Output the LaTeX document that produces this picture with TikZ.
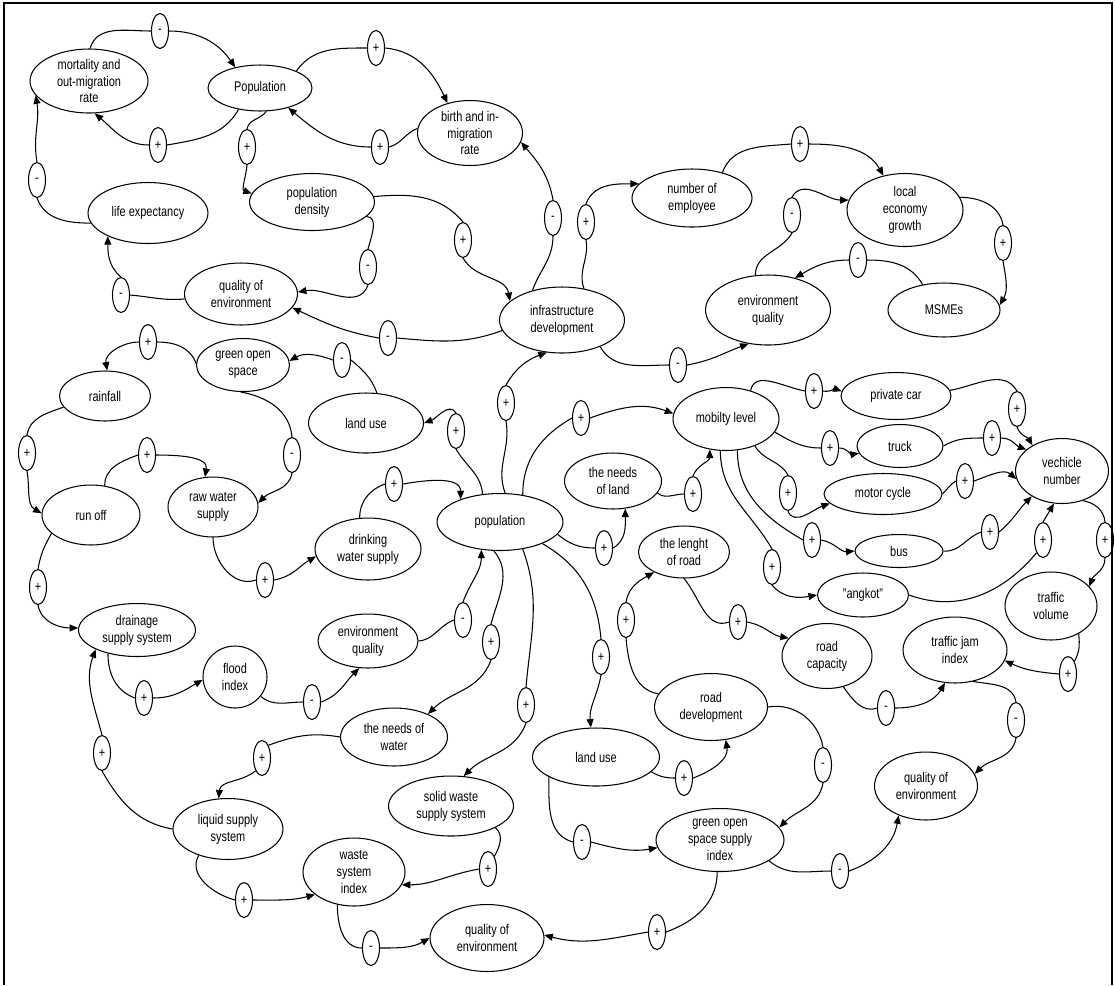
\documentclass[tikz,border=0pt]{standalone}
\usepackage{fontspec}
\setmainfont{Liberation Sans}[FakeStretch=0.78]
\usetikzlibrary{shapes.geometric, arrows.meta}
\tikzset{
  var/.style={ellipse, draw, line width=0.6pt, align=center, inner sep=0pt,
              font=\fontsize{8}{9.6}\selectfont},
  sz/.style 2 args={minimum width=#1cm, minimum height=#2cm},
  sgn/.style={ellipse, draw, line width=0.6pt, inner sep=0pt,
              minimum width=0.34cm, minimum height=0.7cm,
              font=\fontsize{8}{8}\selectfont},
  ln/.style={line width=0.6pt},
  arr/.style={ln, -{Triangle[length=1.7mm, width=1.4mm]}},
  frame/.style={line width=1.3pt},
}

\begin{document}
\begin{tikzpicture}[x=0.02cm, y=0.02cm]
  \useasboundingbox (0,0) rectangle (1115,-985);
  \draw[frame] (4,-985) -- (4,-3) -- (1112,-3) -- (1112,-985);

  % population loop
  \node[var, sz={2.36}{1.28}] (mort) at (89,-81) {mortality and\\out-migration\\rate};
  \node[var, sz={2.08}{0.92}] (popA) at (260,-88) {Population};
  \node[var, sz={2.1}{1.3}] (birth) at (470,-133) {birth and in-\\migration\\rate};
  \node[var, sz={2.5}{1.14}] (dens) at (312,-202) {population\\density};
  \node[var, sz={2.4}{1.22}] (life) at (148,-213) {life expectancy};
  \node[var, sz={2.26}{1.24}] (qoeA) at (241,-294) {quality of\\environment};
  \node[var, sz={2.5}{1.32}] (infra) at (562,-320) {infrastructure\\development};
  % economy
  \node[var, sz={2.4}{1.16}] (empl) at (692,-198) {number of\\employee};
  \node[var, sz={2.32}{1.46}] (econ) at (905,-210) {local\\economy\\growth};
  \node[var, sz={2.5}{1.4}] (envA) at (768,-310) {environment\\quality};
  \node[var, sz={2.24}{1.08}] (msme) at (944,-310) {MSMEs};
  % water
  \node[var, sz={1.86}{1.06}] (gos) at (243,-365) {green open\\space};
  \node[var, sz={2.3}{1.2}] (luA) at (366,-423) {land use};
  \node[var, sz={1.82}{1.0}] (rain) at (105,-396) {rainfall};
  \node[var, sz={1.96}{1.2}] (runoff) at (91,-515) {run off};
  \node[var, sz={1.8}{1.2}] (raw) at (213,-507) {raw water\\supply};
  \node[var, sz={2.12}{1.24}] (drink) at (368,-549) {drinking\\water supply};
  \node[var, sz={2.34}{1.06}] (drain) at (137,-630) {drainage\\supply system};
  \node[var, sz={2.0}{1.08}] (envB) at (368,-641) {environment\\quality};
  \node[var, sz={1.28}{1.24}] (flood) at (235,-677) {flood\\index};
  % centre
  \node[var, sz={2.52}{1.14}] (popB) at (500,-522) {population};
  \node[var, sz={1.94}{1.12}] (nland) at (613,-481) {the needs\\of land};
  % transport
  \node[var, sz={2.12}{1.26}] (mob) at (726,-419) {mobilty level};
  \node[var, sz={1.82}{1.04}] (lroad) at (684,-552) {the lenght\\of road};
  \node[var, sz={2.2}{0.94}] (car) at (896,-396) {private car};
  \node[var, sz={1.72}{0.86}] (truck) at (900,-446) {truck};
  \node[var, sz={2.36}{0.82}] (moto) at (883,-494) {motor cycle};
  \node[var, sz={1.76}{0.66}] (bus) at (899,-551) {bus};
  \node[var, sz={1.82}{0.88}] (angkot) at (863,-595) {"angkot"};
  \node[var, sz={1.86}{1.3}] (veh) at (1062,-471) {vechicle\\number};
  \node[var, sz={1.84}{1.36}] (tvol) at (1051,-606) {traffic\\volume};
  \node[var, sz={2.08}{1.32}] (tjam) at (955,-650) {traffic jam\\index};
  \node[var, sz={1.8}{1.3}] (rcap) at (827,-656) {road\\capacity};
  \node[var, sz={2.26}{1.34}] (rdev) at (711,-707) {road\\development};
  \node[var, sz={2.54}{1.16}] (luB) at (596,-757) {land use};
  \node[var, sz={2.56}{1.26}] (gossi) at (720,-840) {green open\\space supply\\index};
  \node[var, sz={2.06}{1.36}] (qoeC) at (926,-786) {quality of\\environment};
  % waste
  \node[var, sz={2.14}{1.16}] (nwater) at (394,-737) {the needs of\\water};
  \node[var, sz={2.5}{1.2}] (solid) at (451,-806) {solid waste\\supply system};
  \node[var, sz={2.2}{1.22}] (liquid) at (228,-829) {liquid supply\\system};
  \node[var, sz={2.04}{1.36}] (windex) at (354,-872) {waste\\system\\index};
  \node[var, sz={2.28}{1.34}] (qoeB) at (487,-938) {quality of\\environment};

  % polarity signs
  \foreach \n/\x/\y/\s in {s1/160/31/-, s2/158/145/+, s3/376/48/+, s4/380/147/+,
      s5/247/147/+, s6/37/180/-, s7/121/295/-, s8/368/267/-, s9/463/240/+,
      s10/388/338/-, s11/553/218/-, s12/586/222/+, s13/800/144/+, s14/792/215/-,
      s15/1003/243/+, s16/858/260/-, s17/678/365/-, s18/342/360/-, s19/148/342/+,
      s20/27/453/+, s21/292/455/-, s22/147/455/+, s23/38/587/+, s24/265/580/+,
      s25/394/484/+, s26/456/431/+, s27/506/403/+, s28/581/418/+, s29/604/548/+,
      s30/693/494/+, s31/814/391/+, s32/830/448/+, s33/788/493/+, s34/812/540/+,
      s35/772/567/+, s36/1017/409/+, s37/992/438/+, s38/965/481/+, s39/990/532/+,
      s40/1043/540/+, s41/1105/540/+, s42/1068/674/+, s43/738/622/+, s44/886/708/-,
      s45/1016/720/-, s46/626/620/+, s47/823/765/-, s48/601/657/+, s49/684/778/+,
      s50/582/842/-, s51/840/871/-, s52/657/932/+, s53/526/705/+, s54/491/642/+,
      s55/463/620/-, s56/312/702/-, s57/144/698/+, s58/102/753/+, s59/262/758/+,
      s60/244/900/+, s61/488/869/+, s62/371/948/-}
    \node[sgn] (\n) at (\x,-\y) {\s};

  % links: source -- sign -> target
  \draw[ln] (mort.88) to[out=75,in=180] (s1.west);   \draw[arr] (s1.east) to[out=0,in=125] (popA.140);
  \draw[ln] (popA.225) to[out=240,in=10] (s2.east);  \draw[arr] (s2.west) to[out=180,in=-40] (mort.280);
  \draw[ln] (popA.25) to[out=55,in=180] (s3.west);   \draw[arr] (s3.east) to[out=-5,in=115] (birth.127);
  \draw[ln] (birth.175) to[out=200,in=15] (s4.east); \draw[arr] (s4.west) to[out=180,in=-40] (popA.-35);
  \draw[ln] (popA.-75) to[out=235,in=80] (s5.north); \draw[arr] (s5.south) to[out=-95,in=160] (dens.172);
  \draw[ln] (life.190) to[out=180,in=-70] (s6.south); \draw[arr] (s6.north) to[out=100,in=-80] (mort.195);
  \draw[ln] (qoeA.185) to[out=185,in=-5] (s7.east); \draw[arr] (s7.north) to[out=140,in=-90] (life.210);
  \draw[ln] (dens.-15) to[out=0,in=75] (s8.north);  \draw[arr] (s8.south) to[out=250,in=10] (qoeA.2);
  \draw[ln] (dens.5) to[out=5,in=130] (s9.north);   \draw[arr] (s9.south) to[out=-60,in=100] (infra.160);
  \draw[ln] (infra.190) to[out=200,in=-5] (s10.east); \draw[arr] (s10.west) to[out=170,in=-25] (qoeA.-15);
  \draw[ln] (infra.135) to[out=70,in=-90] (s11.south); \draw[arr] (s11.north) to[out=100,in=-50] (birth.-10);
  \draw[ln] (infra.55) to[out=110,in=-80] (s12.south); \draw[arr] (s12.north) to[out=70,in=180] (empl.165);
  \draw[ln] (empl.40) to[out=70,in=185] (s13.west); \draw[arr] (s13.east) to[out=0,in=120] (econ.122);
  \draw[ln] (envA.110) to[out=90,in=-120] (s14.south); \draw[arr] (s14.north) to[out=60,in=180] (econ.170);
  \draw[ln] (econ.13) to[out=0,in=100] (s15.north); \draw[arr] (s15.south) to[out=-80,in=60] (msme.5);
  \draw[ln] (msme.130) to[out=120,in=0] (s16.east); \draw[arr] (s16.west) to[out=180,in=30] (envA.50);
  \draw[ln] (infra.-35) to[out=-60,in=180] (s17.west); \draw[arr] (s17.east) to[out=10,in=200] (envA.240);
  \draw[ln] (luA.70) to[out=110,in=-40] (s18.east); \draw[arr] (s18.west) to[out=160,in=30] (gos.5);
  \draw[ln] (gos.178) to[out=110,in=0] (s19.east);  \draw[arr] (s19.west) to[out=180,in=100] (rain.85);
  \draw[ln] (rain.195) to[out=200,in=80] (s20.north); \draw[arr] (s20.south) to[out=-80,in=150] (runoff.178);
  \draw[ln] (gos.-95) to[out=-10,in=95] (s21.north); \draw[arr] (s21.south) to[out=-100,in=45] (raw.5);
  \draw[ln] (runoff.65) to[out=90,in=200] (s22.west); \draw[arr] (s22.east) to[out=0,in=80] (raw.105);
  \draw[ln] (runoff.205) to[out=240,in=80] (s23.north); \draw[arr] (s23.south) to[out=-80,in=180] (drain.178);
  \draw[ln] (raw.-90) to[out=-90,in=200] (s24.west); \draw[arr] (s24.east) to[out=10,in=210] (drink.188);
  \draw[ln] (drink.105) to[out=90,in=200] (s25.west); \draw[arr] (s25.east) to[out=10,in=90] (popB.150);
  \draw[ln] (popB.122) to[out=95,in=-60] (s26.south); \draw[arr] (s26.north) to[out=120,in=20] (luA.0);
  \draw[ln] (popB.80) to[out=110,in=-80] (s27.south); \draw[arr] (s27.north) to[out=60,in=200] (infra.245);
  \draw[ln] (popB.50) to[out=90,in=210] (s28.west); \draw[arr] (s28.east) to[out=20,in=160] (mob.174);
  \draw[ln] (popB.-12) to[out=-40,in=180] (s29.west); \draw[arr] (s29.east) to[out=30,in=-90] (nland.-66);
  \draw[ln] (nland.-15) to[out=-40,in=180] (s30.west); \draw[arr] (s30.north) to[out=70,in=-90] (mob.242);
  \draw[ln] (mob.49) to[out=80,in=170] (s31.west); \draw[arr] (s31.east) to[out=-10,in=160] (car.175);
  \draw[ln] (mob.-15) to[out=-30,in=180] (s32.west); \draw[arr] (s32.east) to[out=0,in=190] (truck.190);
  \draw[ln] (mob.-43) to[out=-60,in=120] (s33.north); \draw[arr] (s33.south) to[out=-70,in=200] (moto.190);
  \draw[ln] (mob.-70) to[out=-90,in=150] (s34.west); \draw[arr] (s34.east) to[out=-10,in=185] (bus.180);
  \draw[ln] (mob.-100) to[out=-90,in=120] (s35.north); \draw[arr] (s35.south) to[out=-50,in=190] (angkot.180);
  \draw[ln] (car.6) to[out=10,in=120] (s36.north); \draw[arr] (s36.south) to[out=-70,in=120] (veh.139);
  \draw[ln] (truck.0) to[out=30,in=180] (s37.west); \draw[arr] (s37.east) to[out=0,in=160] (veh.149);
  \draw[ln] (moto.0) to[out=45,in=210] (s38.west); \draw[arr] (s38.east) to[out=20,in=140] (veh.190);
  \draw[ln] (bus.0) to[out=-5,in=200] (s39.west); \draw[arr] (s39.east) to[out=40,in=225] (veh.220);
  \draw[ln] (angkot.0) to[out=-20,in=230] (s40.south west); \draw[arr] (s40.north) to[out=60,in=240] (veh.256);
  \draw[ln] (veh.-55) to[out=-10,in=95] (s41.north); \draw[arr] (s41.south) to[out=-90,in=70] (tvol.27);
  \draw[ln] (tvol.-45) to[out=-85,in=60] (s42.north east); \draw[arr] (s42.west) to[out=175,in=-25] (tjam.-12);
  \draw[ln] (lroad.-90) to[out=-50,in=200] (s43.west); \draw[arr] (s43.east) to[out=-10,in=170] (rcap.155);
  \draw[ln] (rcap.-62) to[out=-55,in=200] (s44.west); \draw[arr] (s44.east) to[out=0,in=240] (tjam.253);
  \draw[ln] (tjam.-60) to[out=-10,in=100] (s45.north); \draw[arr] (s45.south) to[out=-100,in=45] (qoeC.14);
  \draw[ln] (rdev.166) to[out=170,in=-85] (s46.south); \draw[arr] (s46.north) to[out=80,in=210] (lroad.214);
  \draw[ln] (rdev.0) to[out=10,in=100] (s47.north); \draw[arr] (s47.south) to[out=-100,in=45] (gossi.12);
  \draw[ln] (popB.-27) to[out=-30,in=95] (s48.north); \draw[arr] (s48.south) to[out=-100,in=95] (luB.100);
  \draw[ln] (luB.-15) to[out=-30,in=180] (s49.west); \draw[arr] (s49.east) to[out=20,in=-80] (rdev.-66);
  \draw[ln] (luB.203) to[out=-90,in=165] (s50.west); \draw[arr] (s50.east) to[out=-15,in=190] (gossi.187);
  \draw[ln] (gossi.-23) to[out=-40,in=180] (s51.west); \draw[arr] (s51.east) to[out=20,in=-100] (qoeC.227);
  \draw[ln] (gossi.-95) to[out=-90,in=20] (s52.east); \draw[arr] (s52.west) to[out=190,in=-15] (qoeB.3);
  \draw[ln] (popB.-50) to[out=-70,in=85] (s53.north); \draw[arr] (s53.south) to[out=-110,in=45] (solid.67);
  \draw[ln] (popB.258) to[out=-50,in=75] (s54.north); \draw[arr] (s54.south) to[out=-110,in=45] (nwater.34);
  \draw[ln] (envB.0) to[out=5,in=200] (s55.west); \draw[arr] (s55.north) to[out=70,in=-90] (popB.236);
  \draw[ln] (flood.-37) to[out=-40,in=180] (s56.west); \draw[arr] (s56.east) to[out=20,in=225] (envB.252);
  \draw[ln] (drain.219) to[out=-90,in=160] (s57.west); \draw[arr] (s57.east) to[out=0,in=210] (flood.185);
  \draw[ln] (liquid.180) to[out=170,in=-60] (s58.south); \draw[arr] (s58.north) to[out=105,in=250] (drain.205);
  \draw[ln] (nwater.180) to[out=170,in=20] (s59.north east); \draw[arr] (s59.south west) to[out=220,in=85] (liquid.107);
  \draw[ln] (liquid.222) to[out=-120,in=165] (s60.west); \draw[arr] (s60.east) to[out=0,in=195] (windex.210);
  \draw[ln] (solid.-26) to[out=-40,in=60] (s61.north east); \draw[arr] (s61.west) to[out=190,in=0] (windex.-15);
  \draw[ln] (windex.243) to[out=-90,in=180] (s62.west); \draw[arr] (s62.east) to[out=0,in=210] (qoeB.180);
\end{tikzpicture}
\end{document}
